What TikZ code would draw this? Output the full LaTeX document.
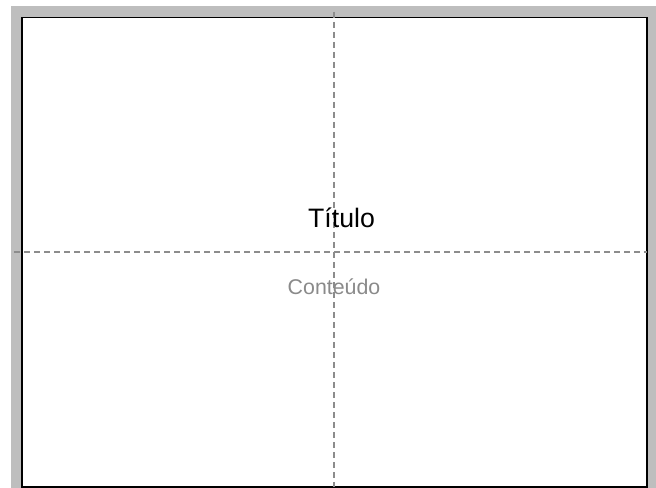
\documentclass[tikz,border=0pt]{standalone}
\usepackage{fontspec}
\setmainfont{Liberation Sans}
\definecolor{framegray}{HTML}{BEBEBE}
\definecolor{guidegray}{HTML}{8C8C8C}
\definecolor{textgray}{HTML}{8A8A8A}
\begin{document}
\begin{tikzpicture}[x=0.75pt,y=-0.75pt,
  guide/.style={draw=guidegray,line width=0.8pt,dash pattern=on 4.5pt off 3pt},
  slide/.style={draw=black,fill=white,line width=1.1pt},
  titletext/.style={font=\fontsize{20}{22}\selectfont,text=black,anchor=base,inner sep=0pt},
  bodytext/.style={font=\fontsize{16}{18}\selectfont,text=textgray,anchor=base,inner sep=0pt}]
\useasboundingbox (0,0) rectangle (656,488);
\fill[white] (0,0) rectangle (656,488);
\fill[framegray] (11,6) rectangle (656,488);
\draw[slide] (22,17.5) rectangle (647,487);
\coordinate (vtop) at (334,12);
\coordinate (vbot) at (334,487);
\coordinate (hl) at (14,252);
\coordinate (hr) at (647,252);
\draw[guide] (vtop) -- (vbot);
\draw[guide] (hl) -- (hr);
\node[titletext] (title) at (341.5,228) {Título};
\node[bodytext] (body) at (334,294) {Conteúdo};
\end{tikzpicture}
\end{document}
